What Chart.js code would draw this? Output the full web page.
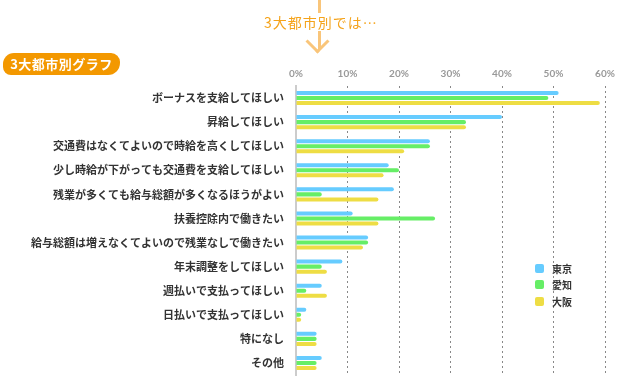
<!DOCTYPE html>
<html lang="ja">
<head>
<meta charset="utf-8">
<script src="https://cdn.jsdelivr.net/npm/chart.js@4"></script>
<style>
  body { margin: 0; background: #fff; font-family: "Noto Sans CJK JP", sans-serif; }
  #wrap { position: relative; width: 640px; height: 380px; overflow: hidden; }
  #chart { position: absolute; left: 0; top: 0; }
  .arrow { position: absolute; left: 318px; top: 0; width: 3px; height: 49px; background: #f9c57a; }
  .arrow-head { position: absolute; left: 309px; top: 33px; width: 14px; height: 14px;
    border-right: 3px solid #f9c57a; border-bottom: 3px solid #f9c57a; transform: rotate(45deg); }
  .sub { position: absolute; left: 262px; top: 13px; padding: 0 2px; background: #fff;
    color: #f5a31a; font-size: 14px; line-height: 18px; letter-spacing: 1px; }
  .badge { position: absolute; left: 3px; top: 53px; width: 117px; height: 22px; border-radius: 11px 9px 12px 8px;
    background: #f39800; color: #fff; font-weight: bold; font-size: 13px; line-height: 22px; text-align: center; letter-spacing: 0.5px; }
  #legend { position: absolute; left: 535px; top: 260px; }
  .item { height: 16.6px; display: flex; align-items: center; font-size: 10px; color: #333; font-weight: bold; }
  .box { width: 9px; height: 9px; border-radius: 2px; margin-right: 8px; }
</style>
</head>
<body>
<div id="wrap">
  <canvas id="chart" width="640" height="380"></canvas>
  <div class="arrow"></div>
  <div class="arrow-head"></div>
  <div class="sub">3大都市別では…</div>
  <div class="badge">3大都市別グラフ</div>
  <div id="legend"></div>
</div>
<script>
  const categories = [
    'ボーナスを支給してほしい',
    '昇給してほしい',
    '交通費はなくてよいので時給を高くしてほしい',
    '少し時給が下がっても交通費を支給してほしい',
    '残業が多くても給与総額が多くなるほうがよい',
    '扶養控除内で働きたい',
    '給与総額は増えなくてよいので残業なしで働きたい',
    '年末調整をしてほしい',
    '週払いで支払ってほしい',
    '日払いで支払ってほしい',
    '特になし',
    'その他'
  ];
  const seriesNames = ['東京', '愛知', '大阪'];
  const tokyo = [51, 40, 26, 18, 19, 11, 14, 9, 5, 2, 4, 5];
  const aichi = [49, 33, 26, 20, 5, 27, 14, 5, 2, 1, 4, 4];
  const osaka = [59, 33, 21, 17, 16, 16, 13, 6, 6, 1, 4, 4];
  const xTicks = [0, 10, 20, 30, 40, 50, 60];

  const colors = ['#66ccff', '#66ee66', '#eedd44'];
  const values = [tokyo, aichi, osaka];

  const chart = new Chart(document.getElementById('chart'), {
    type: 'bar',
    data: {
      labels: categories,
      datasets: seriesNames.map((name, i) => ({
        label: name,
        data: values[i],
        backgroundColor: colors[i],
        borderRadius: 2,
        categoryPercentage: 0.63,
        barPercentage: 0.8
      }))
    },
    options: {
      indexAxis: 'y',
      responsive: false,
      animation: false,
      layout: { padding: { top: 0, right: 35, left: 0, bottom: 5 } },
      plugins: { legend: { display: false }, tooltip: { enabled: false } },
      scales: {
        x: {
          position: 'top',
          min: 0,
          max: 60,
          afterBuildTicks: axis => { axis.ticks = xTicks.map(v => ({ value: v })); },
          afterFit: axis => { axis.height = 86; axis.paddingLeft = 0; axis.paddingRight = 0; },
          ticks: {
            padding: 6,
            color: '#999',
            font: { family: 'Lato', size: 10, weight: 'bold' },
            callback: v => v + '%'
          },
          grid: {
            drawTicks: false,
            color: ctx => ctx.index === 0 ? 'rgba(0,0,0,0)' : '#888',
            lineWidth: 1
          },
          border: { display: false, dash: [2, 3] }
        },
        y: {
          afterFit: axis => { axis.width = 296; axis.paddingTop = 0; axis.paddingBottom = 0; },
          ticks: {
            padding: 12,
            color: '#333',
            font: { family: 'Noto Sans CJK JP', size: 11, weight: 'bold' }
          },
          grid: { display: false, drawTicks: false },
          border: { display: true, color: '#cccccc', width: 2 }
        }
      }
    }
  });

  const legend = document.getElementById('legend');
  chart.data.datasets.forEach(ds => {
    const row = document.createElement('div');
    row.className = 'item';
    row.innerHTML = '<span class="box" style="background:' + ds.backgroundColor + '"></span>' + ds.label;
    legend.appendChild(row);
  });
</script>
</body>
</html>
